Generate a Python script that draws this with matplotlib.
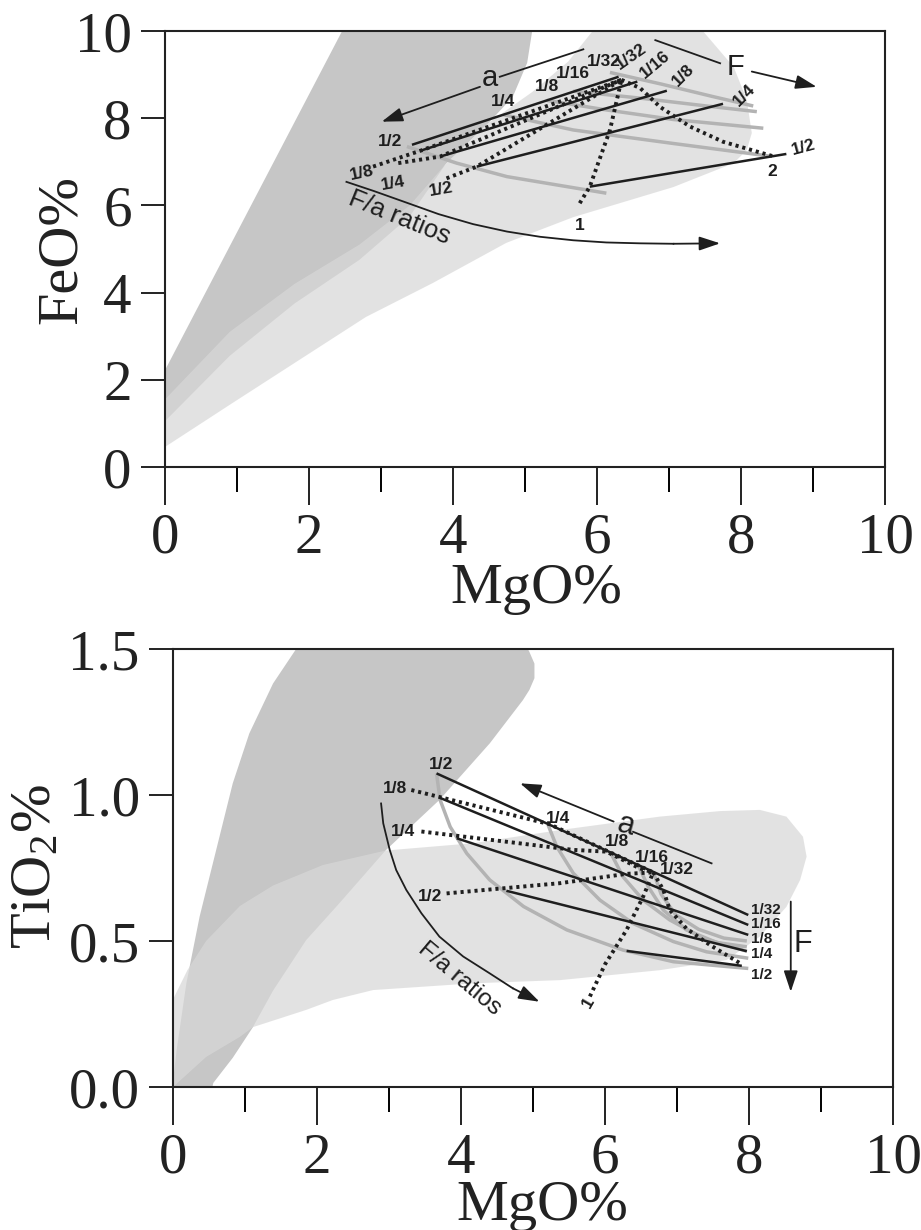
import matplotlib
matplotlib.use("Agg")
import matplotlib.pyplot as plt

plt.rcParams["font.family"] = ["Liberation Serif", "DejaVu Serif"]
plt.rcParams["mathtext.fontset"] = "custom"
plt.rcParams["mathtext.rm"] = "Liberation Serif"
plt.rcParams["mathtext.it"] = "Liberation Serif:italic"

# ---------------- FeO vs MgO panel ----------------
fe_field_dark = [(-0.1, 2.0), (0, 2.22), (2.65, 10.6), (5.15, 10.6), (5.1, 10.0), (5.03, 9.27),
                 (4.83, 8.49), (4.5, 7.9), (3.9, 6.95), (3.4, 5.75), (2.7, 4.75), (1.8, 3.75),
                 (0.9, 2.55), (0, 1.05), (-0.1, 1.0)]
fe_field_light = [(0, 0.46), (0, 1.55), (0.9, 3.1), (1.8, 4.2), (2.7, 5.1), (3.4, 6.0), (3.9, 6.95),
                  (4.5, 7.9), (5.1, 8.6), (5.6, 9.3), (5.94, 10.0), (6.2, 10.6), (7.2, 10.6),
                  (7.47, 10.0), (7.6, 9.75), (7.9, 9.17), (8.08, 8.42), (8.15, 7.66), (8.08, 7.27),
                  (7.9, 6.97), (7.06, 6.42), (5.67, 5.73), (4.74, 5.14), (3.72, 4.22), (2.79, 3.44),
                  (1.86, 2.45), (0.94, 1.47)]

fe_f_lines = {
    "1/32": [(3.43, 7.39), (6.30, 8.95)],
    "1/16": [(3.54, 7.25), (6.56, 8.84)],
    "1/8": [(3.82, 7.12), (6.97, 8.63)],
    "1/4": [(4.33, 6.89), (7.75, 8.33)],
    "1/2": [(5.90, 6.43), (8.63, 7.18)],
}
fe_a_curves = {
    "1/2": [(3.36, 7.35), (4.05, 6.97), (4.75, 6.66), (5.44, 6.47), (6.13, 6.28)],
    "1/4": [(4.70, 8.08), (5.67, 7.73), (7.06, 7.42), (8.40, 7.13)],
    "1/8": [(5.30, 8.41), (6.13, 8.19), (7.06, 7.97), (8.31, 7.77)],
    "1/16": [(5.67, 8.62), (6.60, 8.46), (7.52, 8.28), (8.22, 8.15)],
    "1/32": [(6.18, 9.05), (6.90, 8.78), (7.60, 8.50), (8.17, 8.28)],
}
fe_ratio_lines = {
    "1/8": [(2.89, 6.89), (3.54, 7.25), (6.34, 8.88)],
    "1/4": [(3.24, 6.97), (3.82, 7.12), (6.34, 8.88)],
    "1/2": [(3.91, 6.62), (4.33, 6.89), (6.34, 8.88)],
    "1": [(5.76, 6.05), (5.90, 6.43), (6.18, 7.73), (6.34, 8.88)],
    "2": [(6.34, 8.88), (6.60, 8.69), (6.875, 8.26), (7.29, 7.81), (7.75, 7.46), (8.44, 7.13)],
}
fe_a_labels = [("1/2", 3.125, 7.46), ("1/4", 4.70, 8.38), ("1/8", 5.30, 8.73),
               ("1/16", 5.67, 9.03), ("1/32", 6.09, 9.30)]
fe_f_labels = [("1/32", 6.48, 9.41, 35), ("1/16", 6.81, 9.22, 40), ("1/8", 7.20, 8.99, 45),
               ("1/4", 8.05, 8.53, 45), ("1/2", 8.87, 7.33, 15)]
fe_ratio_labels = [("1/8", 2.73, 6.74, 12), ("1/4", 3.17, 6.51, 10), ("1/2", 3.84, 6.37, 10),
                   ("1", 5.76, 5.55, 0), ("2", 8.44, 6.77, 0)]
fe_a_arrow = [(5.81, 9.58), (4.65, 8.95), (4.375, 8.72), (3.01, 7.92)]
fe_F_arrow = [(6.81, 9.79), (7.71, 9.26), (8.15, 9.07), (9.05, 8.72)]
fe_ratio_arc = [(2.52, 6.54), (2.9, 6.33), (3.36, 6.06), (3.8, 5.8), (4.28, 5.57), (4.75, 5.40),
                (5.21, 5.28), (5.67, 5.2), (6.13, 5.15), (6.6, 5.13), (7.06, 5.12), (7.71, 5.13)]

# ---------------- TiO2 vs MgO panel ----------------
ti_field_dark = [(-0.1, -0.05), (0, 0.02), (0.05, 0.126), (0.185, 0.355), (0.37, 0.584),
                 (0.60, 0.812), (0.83, 1.04), (1.06, 1.211), (1.39, 1.382), (1.71, 1.5),
                 (1.78, 1.56), (4.80, 1.56), (4.95, 1.49), (5.02, 1.45), (5.02, 1.40),
                 (4.95, 1.36), (4.86, 1.325), (4.40, 1.177), (3.70, 0.983), (2.96, 0.812),
                 (2.31, 0.629), (1.85, 0.503), (1.39, 0.33), (1.11, 0.205), (0.83, 0.10),
                 (0.56, 0.014), (0.5, -0.05)]
ti_field_light = [(0, 0.0), (0, 0.30), (0.2, 0.40), (0.46, 0.50), (0.93, 0.62), (1.39, 0.69),
                  (2.08, 0.76), (2.96, 0.81), (4.17, 0.835), (5.375, 0.88), (6.76, 0.926),
                  (7.6, 0.945), (8.15, 0.949), (8.52, 0.926), (8.75, 0.857), (8.80, 0.789),
                  (8.71, 0.709), (8.52, 0.617), (8.15, 0.515), (7.69, 0.435), (6.76, 0.40),
                  (5.375, 0.366), (4.17, 0.355), (2.78, 0.332), (2.22, 0.298), (1.85, 0.264),
                  (1.11, 0.205), (0.93, 0.172), (0.46, 0.103)]

ti_f_lines = {
    "1/32": [(3.66, 1.074), (7.99, 0.589)],
    "1/16": [(3.71, 0.99), (7.99, 0.555)],
    "1/8": [(3.94, 0.852), (7.99, 0.521)],
    "1/4": [(4.63, 0.672), (7.97, 0.465)],
    "1/2": [(6.30, 0.466), (7.90, 0.415)],
}
ti_a_curves = {
    "1/2": [(3.66, 1.074), (3.71, 0.983), (3.85, 0.891), (4.08, 0.800), (4.40, 0.709),
            (4.87, 0.618), (5.47, 0.538), (6.25, 0.469), (6.95, 0.429), (7.99, 0.406)],
    "1/4": [(5.21, 0.897), (5.33, 0.823), (5.56, 0.732), (5.93, 0.640), (6.39, 0.560),
            (6.95, 0.498), (7.41, 0.463), (7.99, 0.441)],
    "1/8": [(6.07, 0.806), (6.25, 0.720), (6.53, 0.640), (6.90, 0.572), (7.37, 0.509),
            (7.97, 0.465)],
    "1/16": [(6.46, 0.760), (6.60, 0.686), (6.81, 0.606), (7.13, 0.538), (7.55, 0.495),
             (7.97, 0.48)],
    "1/32": [(6.67, 0.737), (6.78, 0.66), (6.98, 0.59), (7.30, 0.54), (7.65, 0.51), (7.97, 0.50)],
}
ti_ratio_lines = {
    "1/8": [(3.31, 1.017), (5.23, 0.90), (6.67, 0.735)],
    "1/4": [(3.45, 0.875), (4.63, 0.84), (5.56, 0.812), (6.02, 0.806), (6.48, 0.749),
            (6.67, 0.735)],
    "1/2": [(3.80, 0.663), (5.375, 0.698), (6.30, 0.73), (6.67, 0.735)],
    "1": [(5.79, 0.31), (6.0, 0.42), (6.30, 0.538), (6.53, 0.652), (6.67, 0.735)],
    "2": [(6.67, 0.735), (6.81, 0.675), (6.90, 0.606), (7.13, 0.543), (7.46, 0.486),
          (7.875, 0.424)],
}
ti_a_labels = [("1/2", 3.73, 1.103), ("1/4", 5.35, 0.920), ("1/8", 6.16, 0.840),
               ("1/16", 6.65, 0.787), ("1/32", 7.0, 0.746)]
ti_f_labels = [("1/32", 0.607), ("1/16", 0.557), ("1/8", 0.507), ("1/4", 0.457), ("1/2", 0.385)]
ti_ratio_labels = [("1/8", 3.08, 1.023, 0), ("1/4", 3.20, 0.875, 0), ("1/2", 3.57, 0.652, 0),
                   ("1", 5.77, 0.29, 60)]
ti_a_arrow = [(7.48, 0.766), (6.39, 0.874), (6.12, 0.909), (4.82, 1.04)]
ti_F_arrow = [(8.58, 0.635), (8.58, 0.326)]
ti_ratio_arc = [(2.89, 0.971), (2.92, 0.903), (3.01, 0.812), (3.10, 0.743), (3.24, 0.675),
                (3.45, 0.595), (3.70, 0.515), (4.03, 0.447), (4.40, 0.389), (4.72, 0.338),
                (5.09, 0.292)]

DARK = "#c6c6c6"
LIGHT = "#d8d8d8"
INK = "#1e1e1e"
GREY_LINE = "#b3b3b3"
SANS = ["Liberation Sans", "DejaVu Sans"]
LABEL_SIZE = 12.5


def xs(pts):
    return [p[0] for p in pts]


def ys(pts):
    return [p[1] for p in pts]


def arrow(ax, tail, head, lw=1.3):
    ax.annotate("", xy=head, xytext=tail,
                arrowprops=dict(arrowstyle="-|>,head_length=0.75,head_width=0.25",
                                lw=lw, color=INK, shrinkA=0, shrinkB=0,
                                mutation_scale=17), zorder=7)


def draw_model(ax, field_dark, field_light, f_lines, a_curves, ratio_lines):
    ax.fill(xs(field_dark), ys(field_dark), color=DARK, lw=0, zorder=1)
    ax.fill(xs(field_light), ys(field_light), color=LIGHT, alpha=0.72, lw=0, zorder=2)
    for pts in a_curves.values():
        ax.plot(xs(pts), ys(pts), color=GREY_LINE, lw=2.5, solid_capstyle="butt",
                solid_joinstyle="round", zorder=3)
    for pts in f_lines.values():
        ax.plot(xs(pts), ys(pts), color=INK, lw=1.8, solid_capstyle="butt", zorder=4)
    for pts in ratio_lines.values():
        ax.plot(xs(pts), ys(pts), color=INK, lw=2.8, linestyle=(0, (0.8, 1.0)),
                dash_capstyle="butt", zorder=5)


def style_axes(ax, ylim, yticks, fmt):
    ax.set_xlim(0, 10)
    ax.set_ylim(*ylim)
    ax.set_xticks(range(0, 11, 2))
    ax.set_xticks(range(1, 10, 2), minor=True)
    ax.set_yticks(yticks)
    ax.set_yticklabels([fmt.format(v) for v in yticks])
    for s in ax.spines.values():
        s.set_linewidth(1.5)
        s.set_color("#222222")
    ax.tick_params(axis="x", which="major", direction="out", length=27, width=1.4,
                   pad=6, labelsize=41, colors="#222222")
    ax.tick_params(axis="x", which="minor", direction="out", length=18, width=1.4)
    ax.tick_params(axis="y", which="major", direction="out", length=17, width=1.4,
                   pad=7, labelsize=41, colors="#222222")


def label(ax, x, y, txt, rot=0, ha="center", size=LABEL_SIZE):
    ax.text(x, y, txt, fontsize=size, fontweight="bold", family=SANS, color=INK,
            ha=ha, va="center", rotation=rot, zorder=8)


fig = plt.figure(figsize=(9.21, 12.30), dpi=100)
W, H = 921.0, 1230.0

# ---- upper panel ----
ax1 = fig.add_axes([165 / W, 1 - 467 / H, 720 / W, 436 / H])
draw_model(ax1, fe_field_dark, fe_field_light, fe_f_lines, fe_a_curves, fe_ratio_lines)
style_axes(ax1, (0, 10), [0, 2, 4, 6, 8, 10], "{:g}")

for txt, x, y in fe_a_labels:
    label(ax1, x, y, txt)
for txt, x, y, r in fe_f_labels:
    label(ax1, x, y, txt, rot=r)
for txt, x, y, r in fe_ratio_labels:
    label(ax1, x, y, txt, rot=r)

ax1.plot(xs(fe_a_arrow[:2]), ys(fe_a_arrow[:2]), color=INK, lw=1.3, zorder=7)
arrow(ax1, fe_a_arrow[2], fe_a_arrow[3])
ax1.text(4.51, 8.93, "a", fontsize=21, family=SANS, color=INK, ha="center", va="center", zorder=8)
ax1.plot(xs(fe_F_arrow[:2]), ys(fe_F_arrow[:2]), color=INK, lw=1.3, zorder=7)
arrow(ax1, fe_F_arrow[2], fe_F_arrow[3])
ax1.text(7.93, 9.18, "F", fontsize=21, family=SANS, color=INK, ha="center", va="center", zorder=8)
ax1.plot(xs(fe_ratio_arc[:-1]), ys(fe_ratio_arc[:-1]), color=INK, lw=1.3, zorder=7)
arrow(ax1, fe_ratio_arc[-2], fe_ratio_arc[-1])
ax1.text(3.26, 5.71, "F/a ratios", fontsize=18.5, family=SANS, color=INK, rotation=-22,
         ha="center", va="center", zorder=8)

fig.text(62 / W, 1 - 250 / H, "FeO%", rotation=90, ha="center", va="center", fontsize=42,
         color="#222222")
fig.text(536 / W, 1 - 603 / H, "MgO%", ha="center", va="baseline", fontsize=42,
         color="#222222")

# ---- lower panel ----
ax2 = fig.add_axes([173 / W, 1 - 1087 / H, 720 / W, 438 / H])
draw_model(ax2, ti_field_dark, ti_field_light, ti_f_lines, ti_a_curves, ti_ratio_lines)
style_axes(ax2, (0, 1.5), [0.0, 0.5, 1.0, 1.5], "{:.1f}")

for txt, x, y in ti_a_labels:
    label(ax2, x, y, txt)
for txt, y in ti_f_labels:
    label(ax2, 8.03, y, txt, ha="left", size=11)
for txt, x, y, r in ti_ratio_labels:
    label(ax2, x, y, txt, rot=r)

ax2.plot(xs(ti_a_arrow[:2]), ys(ti_a_arrow[:2]), color=INK, lw=1.3, zorder=7)
arrow(ax2, ti_a_arrow[2], ti_a_arrow[3])
ax2.text(6.29, 0.895, "a", fontsize=22, family=SANS, color=INK, rotation=-15,
         ha="center", va="center", zorder=8)
arrow(ax2, ti_F_arrow[0], ti_F_arrow[1])
ax2.text(8.75, 0.49, "F", fontsize=22, family=SANS, color=INK, ha="center", va="center", zorder=8)
ax2.plot(xs(ti_ratio_arc[:-1]), ys(ti_ratio_arc[:-1]), color=INK, lw=1.3, zorder=7)
arrow(ax2, ti_ratio_arc[-2], ti_ratio_arc[-1])
ax2.text(3.98, 0.37, "F/a ratios", fontsize=17.5, family=SANS, color=INK, rotation=-40,
         ha="center", va="center", zorder=8)

fig.text(36 / W, 1 - 867 / H, "TiO$_2$%", rotation=90, ha="center", va="center", fontsize=42,
         color="#222222")
fig.text(542 / W, 1 - 1220 / H, "MgO%", ha="center", va="baseline", fontsize=42,
         color="#222222")

fig.savefig("out.png", dpi=100)
